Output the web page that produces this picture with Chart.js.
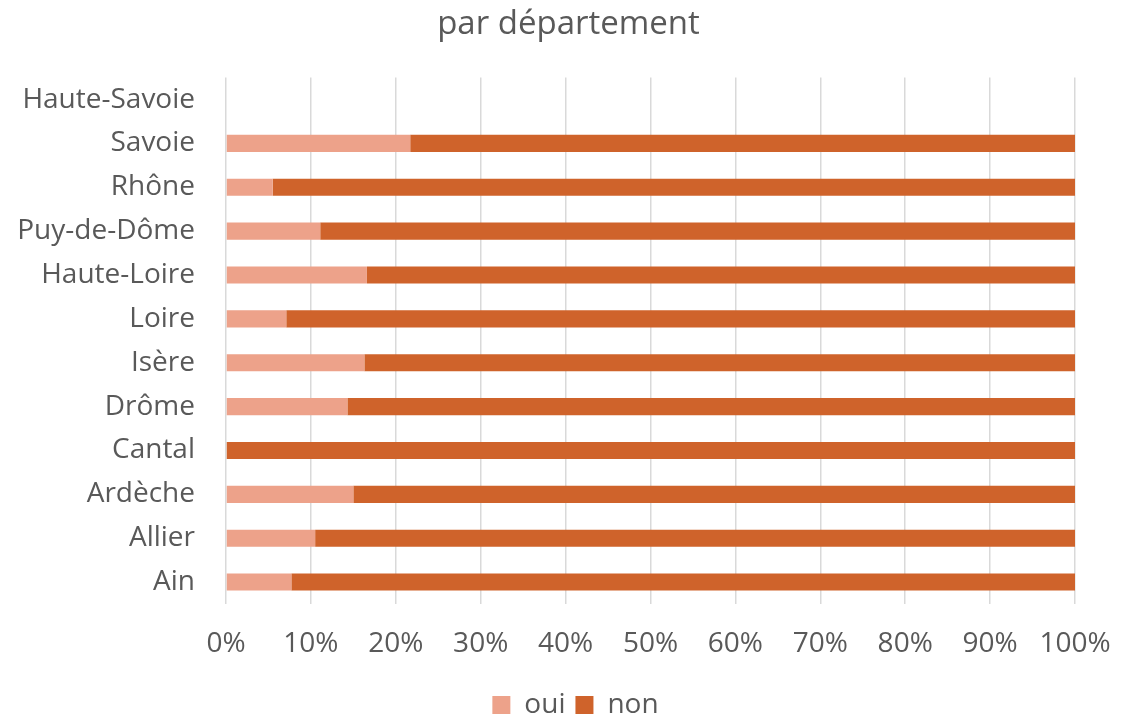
<!DOCTYPE html>
<html>
<head>
<meta charset="utf-8">
<script src="https://cdn.jsdelivr.net/npm/chart.js@4/dist/chart.umd.min.js"></script>
<style>
  html, body { margin: 0; padding: 0; background: #fff; }
  #wrap { width: 1137px; height: 717px; }
</style>
</head>
<body>
<div id="wrap"><canvas id="chart" width="1137" height="717"></canvas></div>
<script>
// departments, bottom to top as in the picture
const departements = ['Ain', 'Allier', 'Ardèche', 'Cantal', 'Drôme', 'Isère', 'Loire',
  'Haute-Loire', 'Puy-de-Dôme', 'Rhône', 'Savoie', 'Haute-Savoie'];

// share of answers (%)
const oui = [7.7, 10.5, 15.0, 0, 14.3, 16.3, 7.1, 16.6, 11.1, 5.5, 21.7, null];
const non = [92.3, 89.5, 85.0, 100, 85.7, 83.7, 92.9, 83.4, 88.9, 94.5, 78.3, null];

const xTicks = [0, 10, 20, 30, 40, 50, 60, 70, 80, 90, 100];

const textColor = '#595959';
const fontFamily = '"Open Sans", sans-serif';

// title and legend are centred on the whole canvas in the original,
// not on the area left of the right padding, and the legend sits lower
const boxShift = {
  id: 'boxShift',
  afterLayout(chart) {
    const t = chart.titleBlock;
    if (t) {
      t.left += 31;
      t.right += 31;
    }
    const l = chart.legend;
    if (l) {
      l.top += 12;
      l.bottom += 12;
      l.left += 38;
      l.right += 38;
      l.legendHitBoxes.forEach(b => { b.left += 38; b.top += 12; });
    }
  }
};

new Chart(document.getElementById('chart'), {
  type: 'bar',
  data: {
    // chart.js draws index 0 at the top for y category axis, so reverse
    labels: departements.slice().reverse(),
    datasets: [
      {
        label: 'oui',
        data: oui.slice().reverse(),
        backgroundColor: '#EDA28A',
        categoryPercentage: 0.39,
        barPercentage: 1
      },
      {
        label: 'non',
        data: non.slice().reverse(),
        backgroundColor: '#CF632B',
        categoryPercentage: 0.39,
        barPercentage: 1
      }
    ]
  },
  options: {
    indexAxis: 'y',
    responsive: false,
    animation: false,
    layout: { padding: { left: 0, right: 62, top: 0, bottom: 0 } },
    plugins: {
      title: {
        display: true,
        text: 'par département',
        color: textColor,
        font: { family: fontFamily, size: 33, weight: 'normal' },
        padding: { top: 5, bottom: 33 }
      },
      legend: {
        position: 'bottom',
        labels: {
          color: textColor,
          font: { family: fontFamily, size: 28 },
          boxWidth: 18,
          boxHeight: 18,
          padding: 10
        }
      },
      tooltip: { enabled: false }
    },
    scales: {
      x: {
        stacked: true,
        min: 0,
        max: 100,
        afterBuildTicks: (scale) => { scale.ticks = xTicks.map(v => ({ value: v })); },
        afterFit: (scale) => { scale.height = 65; },
        grid: { color: '#D9D9D9', lineWidth: 1.5, drawTicks: false },
        border: { display: false },
        ticks: {
          color: textColor,
          padding: 23,
          font: { family: fontFamily, size: 28 },
          callback: (v) => v + '%'
        }
      },
      y: {
        stacked: true,
        afterFit: (scale) => { scale.width = 226; },
        grid: { display: false, drawTicks: false },
        border: { display: false },
        ticks: {
          color: textColor,
          padding: 31,
          font: { family: fontFamily, size: 28 }
        }
      }
    }
  },
  plugins: [boxShift]
});
</script>
</body>
</html>
